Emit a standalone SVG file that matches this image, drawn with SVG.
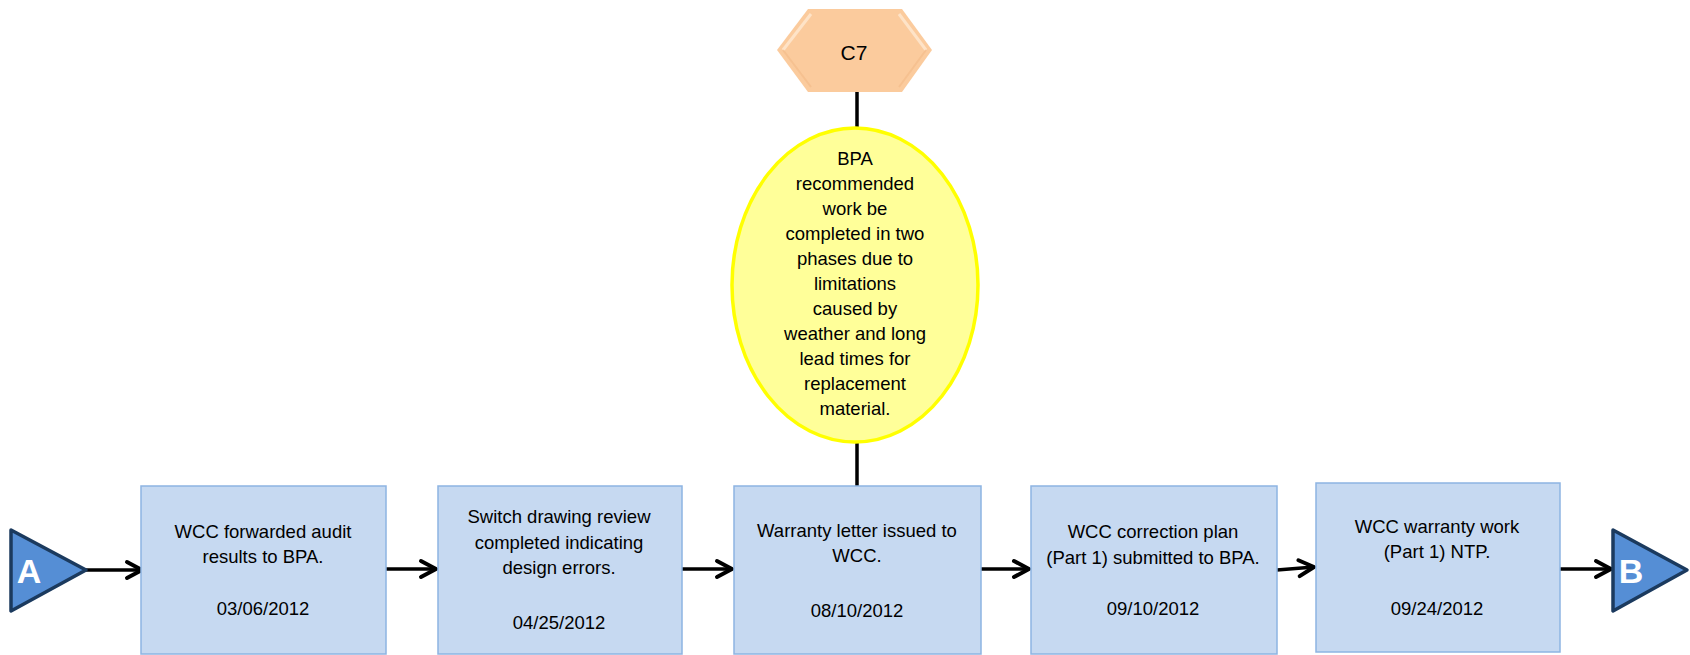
<svg xmlns="http://www.w3.org/2000/svg" width="1690" height="655" viewBox="0 0 1690 655">
<style>
.box{fill:#C6D9F1;stroke:#8DB4E2;stroke-width:1.5}
.t{font-family:"Liberation Sans",Arial,sans-serif;font-size:18.5px;fill:#000;text-anchor:middle}
.tri{fill:#558ED5;stroke:#1B3A5E;stroke-width:3.5;stroke-linejoin:round}
.lt{font-family:"Liberation Sans",Arial,sans-serif;font-size:34px;font-weight:bold;fill:#fff;text-anchor:middle}
.c{stroke:#000;stroke-width:3.5;fill:none}
</style>
<defs>
<marker id="ah" viewBox="-20 -12 24 24" markerWidth="24" markerHeight="24" refX="0" refY="0" orient="auto" markerUnits="userSpaceOnUse">
<path d="M-15,-8 L0,0 L-15,8" fill="none" stroke="#000" stroke-width="4" stroke-linecap="round" stroke-linejoin="round"/>
</marker>
</defs>
<rect width="1690" height="655" fill="#fff"/>
<g id="connectors">
<line class="c" x1="86" y1="570" x2="142" y2="570" marker-end="url(#ah)"/>
<line class="c" x1="386" y1="569" x2="436" y2="569" marker-end="url(#ah)"/>
<line class="c" x1="682" y1="569" x2="732" y2="569" marker-end="url(#ah)"/>
<line class="c" x1="981" y1="569" x2="1029" y2="569" marker-end="url(#ah)"/>
<line class="c" x1="1277" y1="570" x2="1314" y2="567" marker-end="url(#ah)"/>
<line class="c" x1="1560" y1="569" x2="1611" y2="569" marker-end="url(#ah)"/>
<line class="c" x1="857" y1="92" x2="857" y2="129"/>
<line class="c" x1="857" y1="441" x2="857" y2="486"/>
</g>
<g id="nodeA">
<polygon class="tri" points="11,530 86,570 11,611"/>
<text class="lt" x="29" y="583">A</text>
</g>
<g id="nodeB">
<polygon class="tri" points="1613,530 1687,570 1613,611"/>
<text class="lt" x="1631" y="583">B</text>
</g>
<g id="nodeC7">
<polygon points="777,50 808,9 902,9 932,50 902,92 808,92" fill="#FBCB9D"/>
<polyline points="783,50 811,14" fill="none" stroke="#FEE6CC" stroke-width="3" opacity="0.9"/>
<polyline points="926,50 899,14" fill="none" stroke="#FEE6CC" stroke-width="3" opacity="0.9"/>
<polyline points="783,50 811,87" fill="none" stroke="#F4BC8A" stroke-width="2" opacity="0.7"/>
<polyline points="926,50 899,87" fill="none" stroke="#F4BC8A" stroke-width="2" opacity="0.7"/>
<text class="t" x="854" y="60" style="font-size:21px">C7</text>
</g>
<g id="ellipse">
<ellipse cx="855" cy="285" rx="123" ry="157" fill="#FFFF99" stroke="#FFFF00" stroke-width="3.5"/>
<text class="t" x="855" y="165">BPA</text>
<text class="t" x="855" y="190">recommended</text>
<text class="t" x="855" y="215">work be</text>
<text class="t" x="855" y="240">completed in two</text>
<text class="t" x="855" y="265">phases due to</text>
<text class="t" x="855" y="290">limitations</text>
<text class="t" x="855" y="315">caused by</text>
<text class="t" x="855" y="340">weather and long</text>
<text class="t" x="855" y="365">lead times for</text>
<text class="t" x="855" y="390">replacement</text>
<text class="t" x="855" y="415">material.</text>
</g>
<g id="box1">
<rect class="box" x="141" y="486" width="245" height="168"/>
<text class="t" x="263" y="538">WCC forwarded audit</text>
<text class="t" x="263" y="563">results to BPA.</text>
<text class="t" x="263" y="615">03/06/2012</text>
</g>
<g id="box2">
<rect class="box" x="438" y="486" width="244" height="168"/>
<text class="t" x="559" y="523">Switch drawing review</text>
<text class="t" x="559" y="549">completed indicating</text>
<text class="t" x="559" y="574">design errors.</text>
<text class="t" x="559" y="629">04/25/2012</text>
</g>
<g id="box3">
<rect class="box" x="734" y="486" width="247" height="168"/>
<text class="t" x="857" y="537">Warranty letter issued to</text>
<text class="t" x="857" y="562">WCC.</text>
<text class="t" x="857" y="617">08/10/2012</text>
</g>
<g id="box4">
<rect class="box" x="1031" y="486" width="246" height="168"/>
<text class="t" x="1153" y="538">WCC correction plan</text>
<text class="t" x="1153" y="564">(Part 1) submitted to BPA.</text>
<text class="t" x="1153" y="615">09/10/2012</text>
</g>
<g id="box5">
<rect class="box" x="1316" y="483" width="244" height="169"/>
<text class="t" x="1437" y="533">WCC warranty work</text>
<text class="t" x="1437" y="558">(Part 1) NTP.</text>
<text class="t" x="1437" y="615">09/24/2012</text>
</g>
</svg>
